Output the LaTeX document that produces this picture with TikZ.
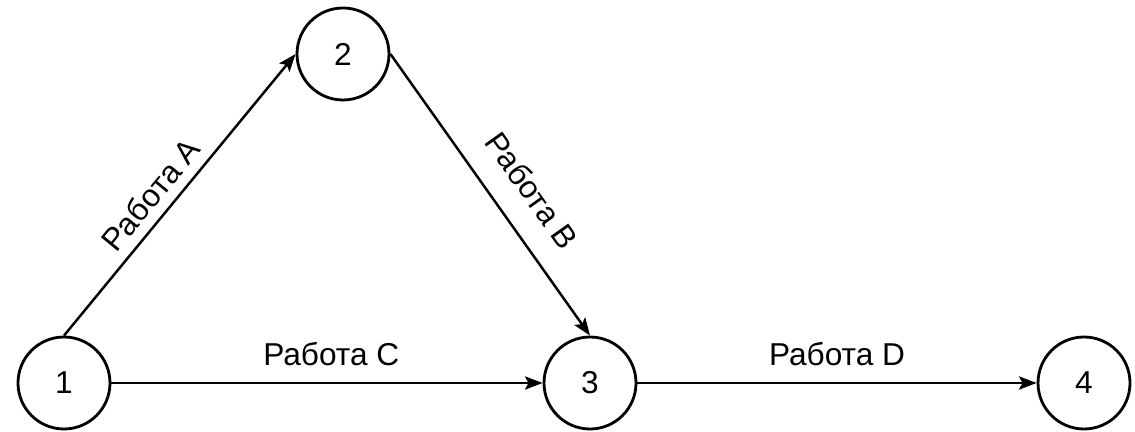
\documentclass[tikz,border=0pt]{standalone}
\usepackage{fontspec}
\setmainfont{Liberation Sans}
\usetikzlibrary{arrows.meta, positioning}

\tikzset{
    event/.style={draw, circle, line width=1.6pt, minimum size=1.84cm, inner sep=0pt},
    job/.style={line width=1.4pt, -{Stealth[length=10pt, width=7.5pt, inset=2pt]}},
    jobname/.style={inner sep=3pt}
}

\begin{document}
\begin{tikzpicture}[font=\fontsize{18}{21}\selectfont]
    \useasboundingbox (0,0) rectangle (22.7,8.64);

    % --- Events ---
    \node[event] (n1) at (1.28, 0.98) {1};
    \node[event] (n2) at (6.86, 7.56) {2};
    \node[event] (n3) at (11.8, 0.98) {3};
    \node[event] (n4) at (21.68, 0.98) {4};

    % --- Jobs ---
    \draw[job] (n1.north) -- node[jobname, pos=0.45, sloped, above=2.5pt] {Работа A} (n2.west);
    \draw[job] (n2.east) -- node[jobname, pos=0.56, sloped, above=10.5pt] {Работа B} (n3.north);
    \draw[job] (n1.east) -- node[jobname, pos=0.51, above=6pt] {Работа C} (n3.west);
    \draw[job] (n3.east) -- node[jobname, pos=0.5, above=6pt] {Работа D} (n4.west);
\end{tikzpicture}
\end{document}
